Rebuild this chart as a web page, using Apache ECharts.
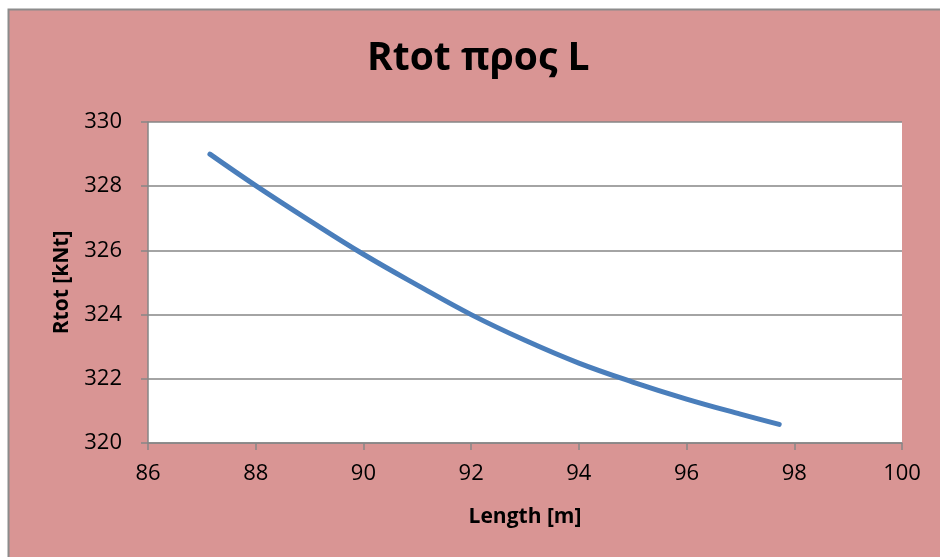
<!DOCTYPE html>
<html>
<head>
<meta charset="utf-8">
<script src="https://cdn.jsdelivr.net/npm/echarts@6/dist/echarts.min.js"></script>
<style>
  html, body { margin: 0; padding: 0; background: #ffffff; }
  #chart { width: 940px; height: 557px; }
</style>
</head>
<body>
<div id="chart"></div>
<script>
// Ship length L [m] and total resistance Rtot [kNt]
const lengths = [87.15, 88, 89, 90, 91, 92, 93, 94, 95, 96, 97, 97.72];
const rtot    = [329.0, 328.02, 326.93, 325.88, 324.92, 324.0, 323.2, 322.49, 321.9, 321.37, 320.9, 320.58];

const xTicks = { min: 86, max: 100, step: 2 };
const yTicks = { min: 320, max: 330, step: 2 };

const points = lengths.map((x, i) => [x, rtot[i]]);

const chart = echarts.init(document.getElementById('chart'), null, { renderer: 'canvas' });
const font = '"Open Sans", "Noto Sans", sans-serif';

chart.setOption({
  backgroundColor: '#ffffff',
  animation: false,
  graphic: [{
    type: 'rect',
    z: -10,
    shape: { x: 8.5, y: 9.5, width: 960, height: 580 },
    style: { fill: '#D99594', stroke: '#8c8c8c', lineWidth: 2 }
  }],
  title: {
    text: 'Rtot προς L',
    left: 362,
    top: 34,
    textStyle: { fontFamily: font, fontSize: 39, fontWeight: 'bold', color: '#000' }
  },
  grid: {
    left: 148, right: 38, top: 122, bottom: 114,
    show: true, backgroundColor: '#ffffff', borderWidth: 0
  },
  xAxis: {
    type: 'value',
    min: xTicks.min, max: xTicks.max, interval: xTicks.step,
    name: 'Length [m]',
    nameLocation: 'middle',
    nameGap: 64,
    nameTextStyle: { fontFamily: font, fontSize: 21, fontWeight: 'bold', color: '#000' },
    axisLine: { show: true, lineStyle: { color: '#868686', width: 1.5 } },
    axisTick: { show: true, length: 7, lineStyle: { color: '#868686', width: 1.5 } },
    axisLabel: { fontFamily: font, fontSize: 22, color: '#000', margin: 20 },
    splitLine: { show: false }
  },
  yAxis: {
    type: 'value',
    min: yTicks.min, max: yTicks.max, interval: yTicks.step,
    name: 'Rtot [kNt]',
    nameLocation: 'middle',
    nameGap: 75,
    nameRotate: 90,
    nameTextStyle: { fontFamily: font, fontSize: 21, fontWeight: 'bold', color: '#000' },
    axisLine: { show: true, lineStyle: { color: '#868686', width: 1.5 } },
    axisTick: { show: true, length: 7, lineStyle: { color: '#868686', width: 1.5 } },
    axisLabel: { fontFamily: font, fontSize: 22, color: '#000', margin: 26 },
    splitLine: { show: true, lineStyle: { color: '#868686', width: 1.5 } }
  },
  series: [{
    type: 'line',
    data: points,
    smooth: 0.4,
    showSymbol: false,
    lineStyle: { color: '#4A7EBB', width: 5, cap: 'round' }
  }]
});
</script>
</body>
</html>
